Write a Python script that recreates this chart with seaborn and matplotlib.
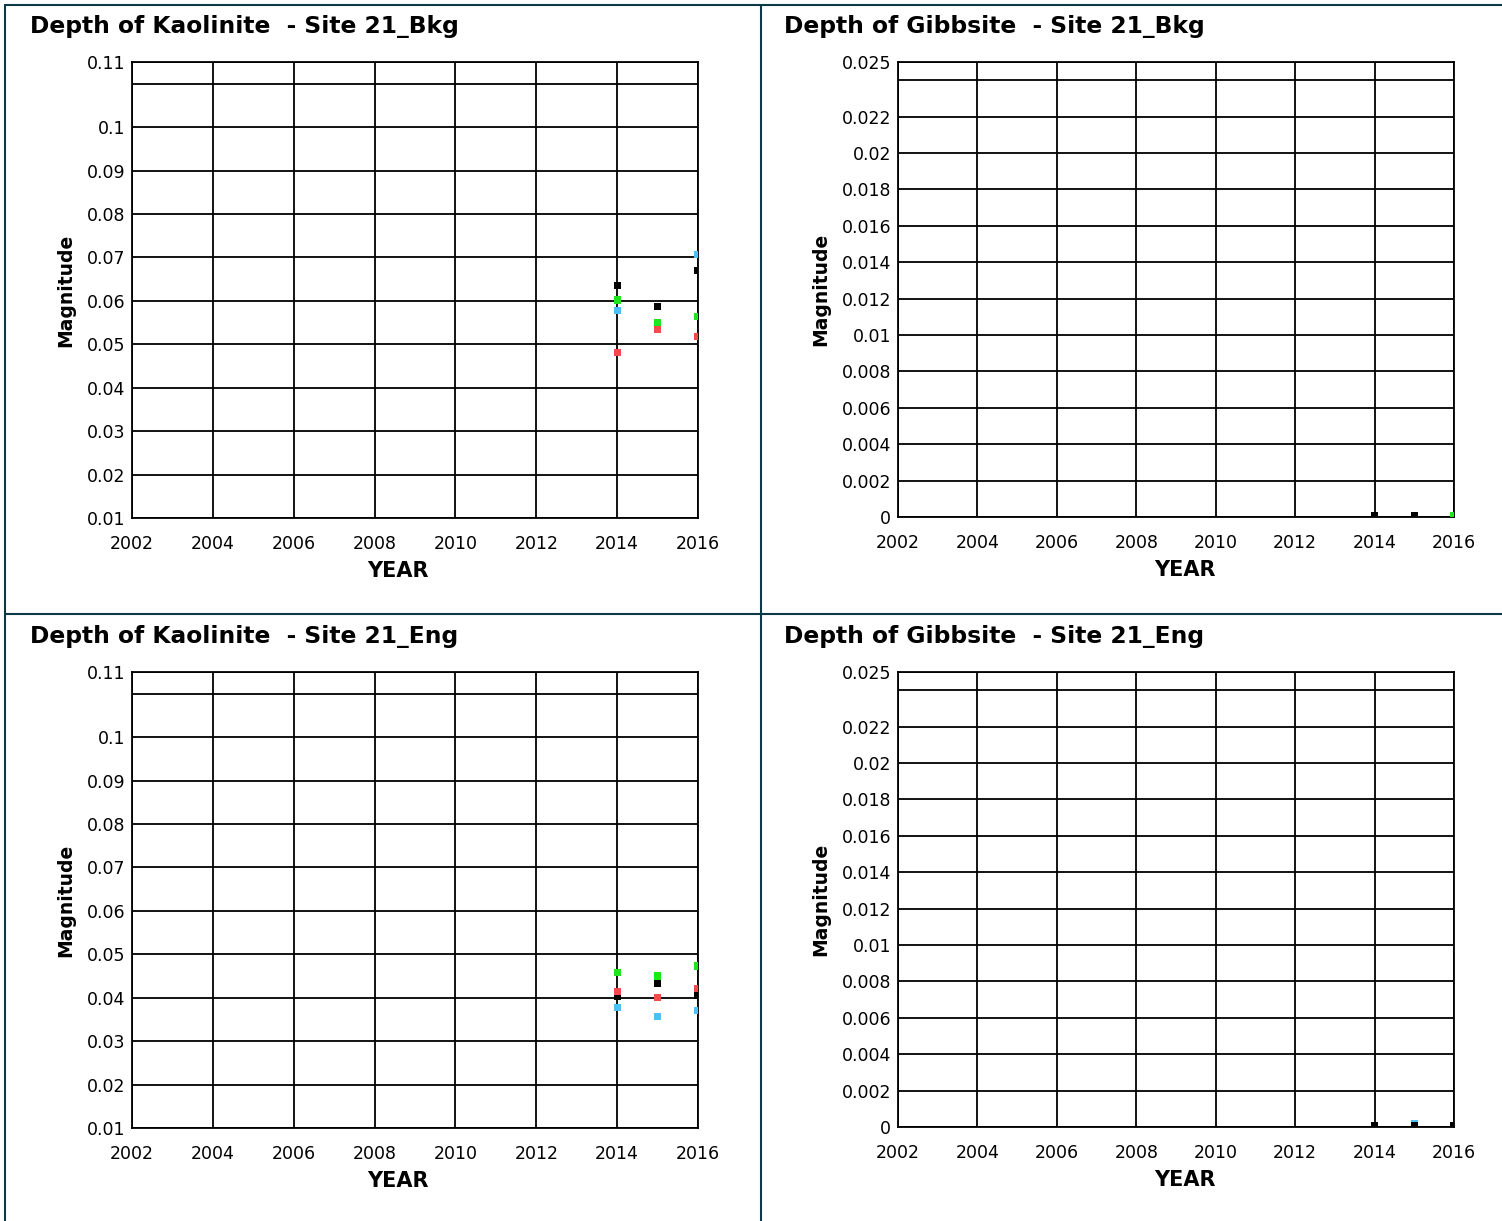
import pandas as pd
import matplotlib
matplotlib.use("Agg")
import matplotlib.pyplot as plt
import seaborn as sns
from matplotlib.lines import Line2D

# 데이터
years = [2014, 2015, 2016]
colors = {"black": "#000000", "green": "#1EE61E", "blue": "#4FC0F5", "red": "#F24B4B"}

kao_bkg = {
    "black": [0.0635, 0.0588, 0.0669],
    "green": [0.0602, 0.0549, 0.0565],
    "blue": [0.0577, None, 0.0706],
    "red": [0.0482, 0.0533, 0.0517],
}
kao_eng = {
    "black": [0.0403, 0.0433, 0.0406],
    "green": [0.0459, 0.0450, 0.0473],
    "blue": [0.0378, 0.0357, 0.0371],
    "red": [0.0415, 0.0401, 0.0422],
}
gib_bkg = {
    "blue": [0.0, 0.0, 0.0],
    "red": [0.0, 0.0, 0.0],
    "black": [0.0001, 0.0001, None],
    "green": [None, None, 0.0001],
}
gib_eng = {
    "green": [0.0, 0.0, 0.0],
    "red": [0.0, 0.0, 0.0],
    "blue": [None, 0.0002, None],
    "black": [0.0001, 0.0001, 0.0001],
}

kao_ticks = [0.01, 0.02, 0.03, 0.04, 0.05, 0.06, 0.07, 0.08, 0.09, 0.1, 0.11, 0.115]
kao_labels = ["0.01", "0.02", "0.03", "0.04", "0.05", "0.06", "0.07", "0.08", "0.09", "0.1", "", "0.11"]
gib_ticks = [0, 0.002, 0.004, 0.006, 0.008, 0.01, 0.012, 0.014, 0.016, 0.018, 0.02, 0.022, 0.024, 0.025]
gib_labels = ["0", "0.002", "0.004", "0.006", "0.008", "0.01", "0.012", "0.014", "0.016", "0.018",
              "0.02", "0.022", "", "0.025"]
x_ticks = [2002, 2004, 2006, 2008, 2010, 2012, 2014, 2016]


def to_frame(d):
    rows = []
    for name, vals in d.items():
        for yr, v in zip(years, vals):
            if v is not None:
                rows.append({"year": yr, "value": v, "series": name})
    return pd.DataFrame(rows)


W, H = 1502, 1221
sns.set_style("white")
plt.rcParams['font.family'] = ['DejaVu Sans']
plt.rcParams['text.color'] = 'black'
plt.rcParams['axes.labelcolor'] = 'black'
plt.rcParams['xtick.color'] = 'black'
plt.rcParams['ytick.color'] = 'black'
fig = plt.figure(figsize=(W / 100, H / 100), dpi=100)


def box(l, r, t, b):
    return [l / W, 1 - b / H, (r - l) / W, (b - t) / H]


panels = [
    (kao_bkg, box(132, 698, 62, 518), (0.01, 0.115), kao_ticks, kao_labels, "Depth of Kaolinite  - Site 21_Bkg", (30, 26), 0.47),
    (gib_bkg, box(898, 1454, 62, 517), (0, 0.025), gib_ticks, gib_labels, "Depth of Gibbsite  - Site 21_Bkg", (784, 26), 0.516),
    (kao_eng, box(132, 698, 672, 1128), (0.01, 0.115), kao_ticks, kao_labels, "Depth of Kaolinite  - Site 21_Eng", (30, 636), 0.47),
    (gib_eng, box(898, 1454, 672, 1127), (0, 0.025), gib_ticks, gib_labels, "Depth of Gibbsite  - Site 21_Eng", (784, 636), 0.516),
]

for data, rect, ylim, yt, yl, title, tpos, xlab in panels:
    ax = fig.add_axes(rect)
    df = to_frame(data)
    sns.scatterplot(data=df, x="year", y="value", hue="series", palette=colors,
                    marker="s", s=26, linewidth=0, legend=False, ax=ax, zorder=3)
    ax.set_xlim(2002, 2016)
    ax.set_ylim(*ylim)
    ax.set_xticks(x_ticks)
    ax.set_yticks(yt)
    ax.set_yticklabels(yl)
    ax.grid(True, color="black", linewidth=1.3)
    ax.set_axisbelow(True)
    for sp in ax.spines.values():
        sp.set_color("black")
        sp.set_linewidth(1.3)
    ax.tick_params(axis="x", length=0, pad=12, labelsize=12.5)
    ax.tick_params(axis="y", length=0, pad=5, labelsize=12.5)
    ax.set_xlabel("YEAR", fontsize=15, fontweight="bold")
    ax.xaxis.set_label_coords(xlab, -0.095)
    ax.set_ylabel("Magnitude", fontsize=13.5, fontweight="bold", labelpad=8)
    fig.text(tpos[0] / W, 1 - tpos[1] / H, title, fontsize=16.8, fontweight="bold",
             ha="left", va="center")

# 패널 테두리
border = "#0B3A46"
for xs, ys in [((5, 1502), (5, 5)), ((5, 5), (5, 1221)), ((761, 761), (5, 1221)),
               ((5, 1502), (614, 614))]:
    fig.add_artist(Line2D([x / W for x in xs], [1 - y / H for y in ys], color=border, linewidth=1.5))

plt.savefig("out.png", dpi=100)
